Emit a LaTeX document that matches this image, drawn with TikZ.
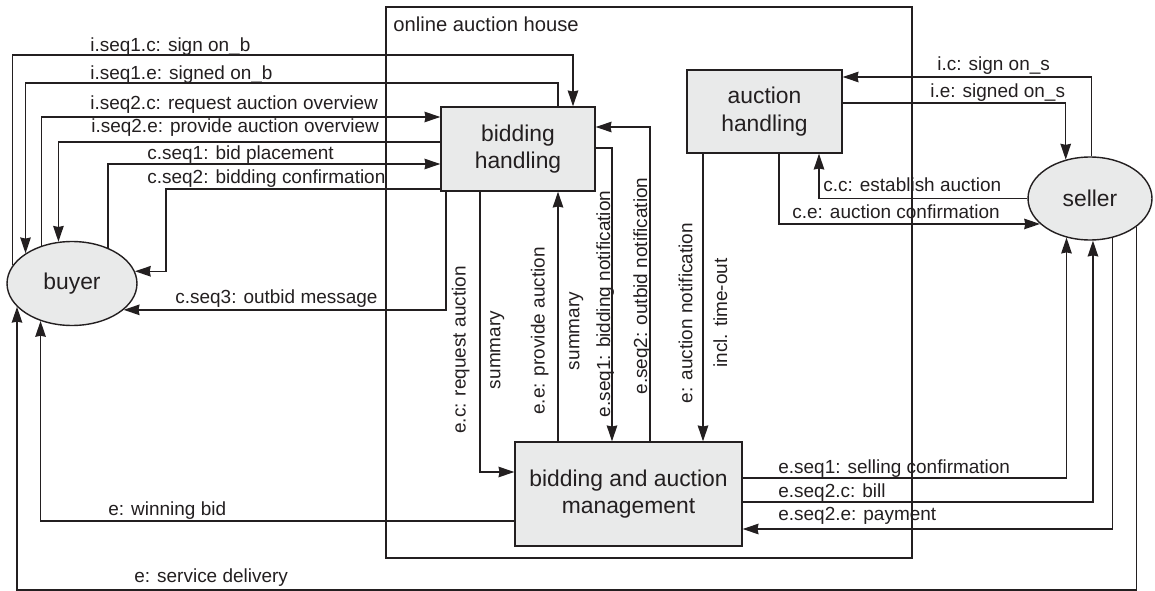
\documentclass[tikz,border=0pt]{standalone}
\usepackage{fontspec}
\setmainfont{Liberation Sans}
\usetikzlibrary{shapes.geometric,arrows.meta}
\definecolor{ink}{HTML}{231F20}
\definecolor{boxfill}{HTML}{E9EAEA}

\begin{document}
\begin{tikzpicture}[x=0.02cm,y=-0.02cm,
  proc/.style={rectangle,draw=ink,fill=boxfill,line width=0.8pt,align=center,text=ink,
    font=\fontsize{13}{15.5}\selectfont,minimum width=3.08cm,minimum height=1.68cm,inner sep=0pt},
  party/.style={ellipse,draw=ink,fill=boxfill,line width=0.8pt,text=ink,
    font=\fontsize{13}{15.5}\selectfont,minimum width=2.6cm,minimum height=1.68cm,inner sep=0pt},
  msg/.style={draw=ink,line width=0.8pt,-{Stealth[length=9pt,width=6pt,inset=0.6pt]}},
  lbl/.style={anchor=base west,inner sep=0pt,text=ink,font=\fontsize{10.8}{13}\selectfont},
  vlbl/.style={rotate=90,inner sep=0pt,align=center,text=ink,font=\fontsize{10.8}{19.8}\selectfont}]
\useasboundingbox (0,0) rectangle (1155,591);
\draw[ink,line width=0.8pt] (386,7) rectangle (912,558);
\node[lbl,font=\fontsize{11.5}{13}\selectfont] (t-oah) at (393,32) {online auction house};

\node[proc] (bh) at (518,149) {bidding\\handling};
\node[proc,minimum width=3.1cm,minimum height=1.66cm] (ah) at (764.5,111.5) {auction\\handling};
\node[proc,minimum width=4.54cm,minimum height=2.08cm] (bam) at (628.5,494) {bidding and auction\\management};
\node[party] (buyer) at (72,283.5) {buyer};
\node[party,minimum width=2.48cm,minimum height=1.66cm] (seller) at (1090,198.5) {seller};

% buyer side
\draw[msg] (buyer.163) |- (573,55) -- (bh.north -| 573,0);
\draw[msg] (bh.north -| 558,0) |- (buyer.147 |- 0,83) -- (buyer.147);
\draw[msg] (buyer.129) |- (bh.west |- 0,117);
\draw[msg] (bh.west |- 0,142) -| (buyer.108);
\draw[msg] (buyer.45) |- (bh.west |- 0,164);
\draw[msg] (bh.west |- 0,189) -| (buyer.11 -| 166,0) -- (buyer.11);
\draw[msg] (bh.south -| 446,0) |- (buyer.-27);
\draw[msg] (bam.west |- 0,521) -| (buyer.-130);
\draw[msg] (seller.329) |- (buyer.203 |- 0,590) -- (buyer.203);

% seller side
\draw[msg] (seller.88) |- (ah.east |- 0,77);
\draw[msg] (ah.east |- 0,103) -| (seller.122);
\draw[msg] (seller.west) -| (ah.south -| 819,0);
\draw[msg] (ah.south -| 779,0) |- (seller.207);
\draw[msg] (bam.east |- 0,478) -| (seller.239);
\draw[msg] (bam.east |- 0,502) -| (seller.274);
\draw[msg] (seller.300) |- (bam.east |- 0,529);

% inside the house
\draw[msg] (bh.south -| 480,0) |- (bam.west |- 0,472);
\draw[msg] (bam.north -| 558,0) -- (bh.south -| 558,0);
\draw[msg] (bh.east |- 0,148) -| (bam.north -| 612,0);
\draw[msg] (bam.north -| 650,0) |- (bh.east |- 0,127);
\draw[msg] (ah.south -| 703,0) -- (bam.north -| 703,0);

\node[lbl] (t-sob) at (90,52) {i.seq1.c: sign on\_b};
\node[lbl] (t-sdb) at (90,80) {i.seq1.e: signed on\_b};
\node[lbl] (t-rao) at (90,110) {i.seq2.c: request auction overview};
\node[lbl] (t-pao) at (91,133) {i.seq2.e: provide auction overview};
\node[lbl] (t-bp) at (147,160) {c.seq1: bid placement};
\node[lbl] (t-bc) at (147,184) {c.seq2: bidding confirmation};
\node[lbl] (t-om) at (175,303) {c.seq3: outbid message};
\node[lbl] (t-wb) at (108,515) {e: winning bid};
\node[lbl] (t-sd) at (134,582) {e: service delivery};
\node[lbl] (t-sos) at (937,71) {i.c: sign on\_s};
\node[lbl] (t-sds) at (930,98) {i.e: signed on\_s};
\node[lbl] (t-ea) at (823,192) {c.c: establish auction};
\node[lbl] (t-ac) at (792,218) {c.e: auction confirmation};
\node[lbl] (t-sc) at (778,473) {e.seq1: selling confirmation};
\node[lbl] (t-bill) at (778,497) {e.seq2.c: bill};
\node[lbl] (t-pay) at (778,520) {e.seq2.e: payment};

\node[vlbl] (t-era) at (478,350) {e.c: request auction\\summary};
\node[vlbl] (t-epa) at (557,331) {e.e: provide auction\\summary};
\node[vlbl] (t-ean) at (703,313) {e: auction notification\\incl. time-out};
\node[vlbl,anchor=base] (t-bn) at (610,304) {e.seq1: bidding notification};
\node[vlbl,anchor=base] (t-obn) at (647,286) {e.seq2: outbid notification};
\end{tikzpicture}
\end{document}
